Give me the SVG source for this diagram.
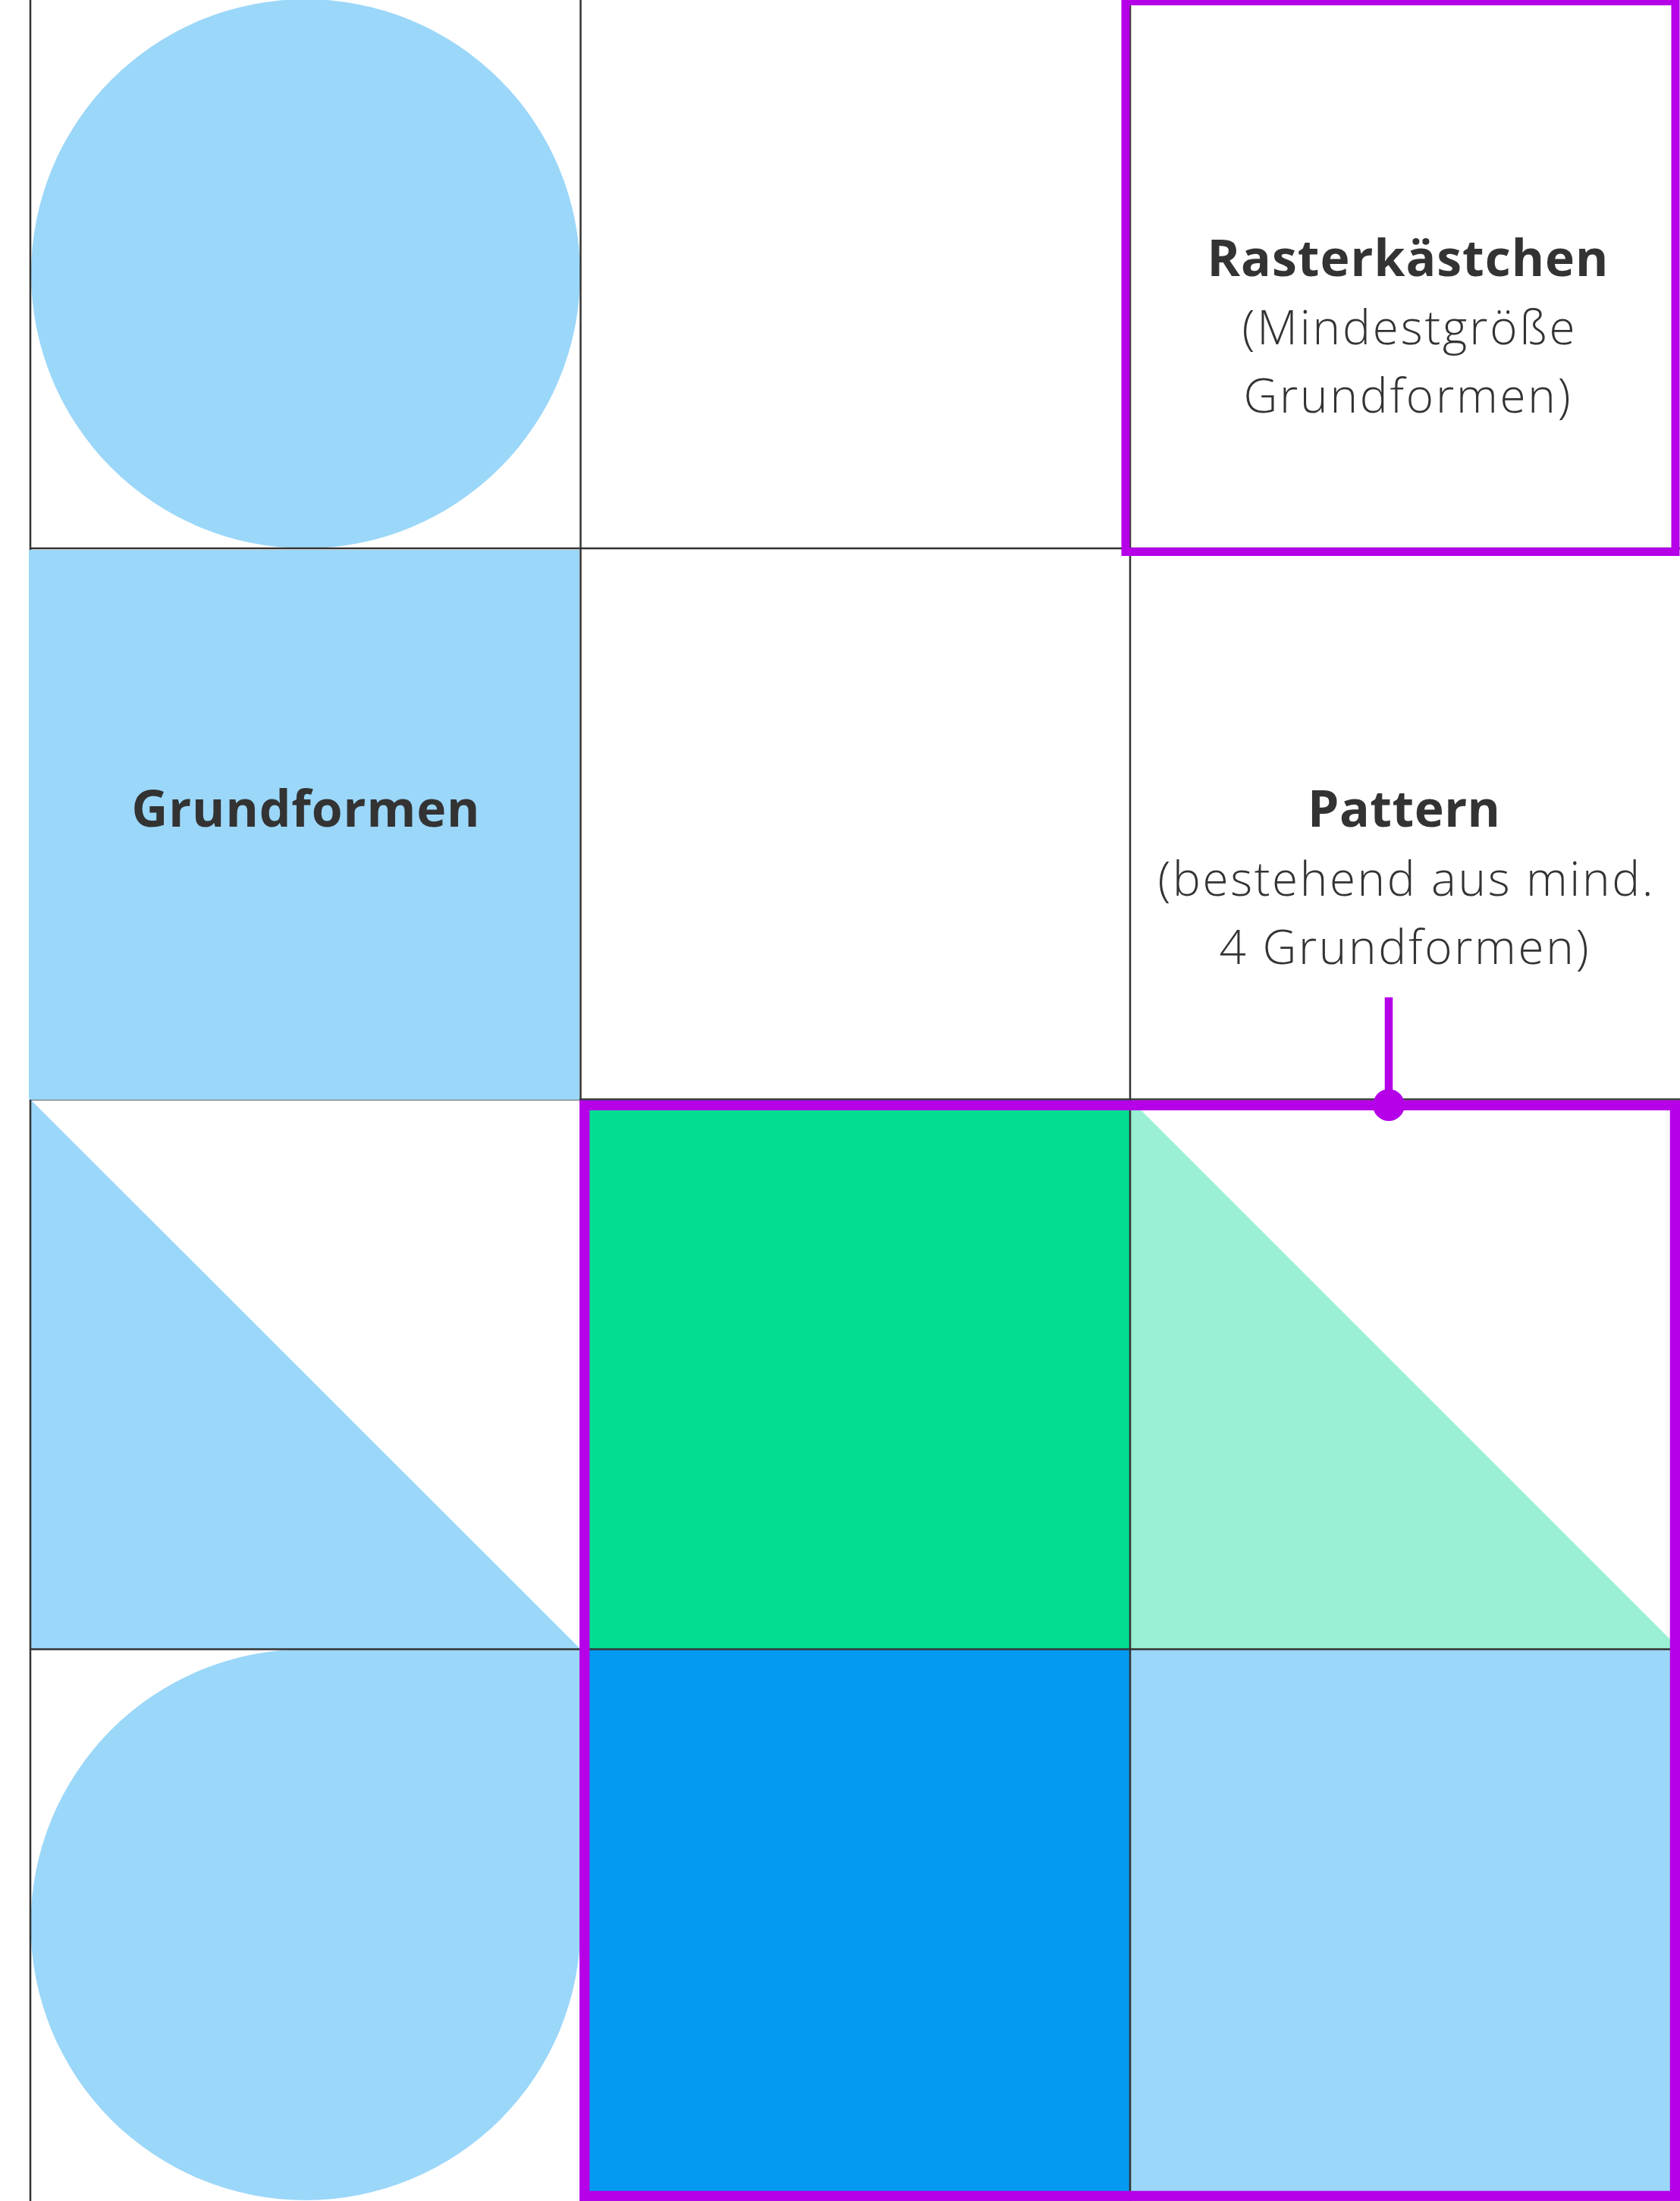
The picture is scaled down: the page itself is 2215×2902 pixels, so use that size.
<svg xmlns="http://www.w3.org/2000/svg" width="2215" height="2902" viewBox="0 0 2215 2902">
<style>
.lb{fill:#9bd7f9}
.grid{stroke:#333333;stroke-width:2.5;fill:none}
.hl{fill:none;stroke:#b500e8}
.tb{font-family:"Open Sans","Liberation Sans",sans-serif;font-weight:700;font-size:66px;fill:#333333;text-anchor:middle}
.tl{font-family:"Open Sans","Liberation Sans",sans-serif;font-weight:300;font-size:62px;fill:#333333;text-anchor:middle}
</style>
<rect width="2215" height="2902" fill="#ffffff"/>
<g id="shapes-under">
  <circle id="circle-top" class="lb" cx="403" cy="361" r="362"/>
  <polygon id="triangle-left" class="lb" points="40,1449.5 40,2174.5 765.5,2174.5"/>
  <path id="leaf-bottom" class="lb" d="M403,2174.5 H765.5 V2538 A362.5,362.5 0 0 1 403,2901 A362.5,362.5 0 0 1 40.5,2538 A362.5,362.5 0 0 1 403,2174.5 Z"/>
  <rect id="green-square" x="765.5" y="1449.5" width="724.5" height="725" fill="#03dd92"/>
  <polygon id="mint-triangle" points="1490,1449.5 1490,2174.5 2215,2174.5" fill="#9af0d4"/>
  <rect id="blue-square" x="765.5" y="2174.5" width="724.5" height="727.5" fill="#049af2"/>
  <rect id="lightblue-square" class="lb" x="1490" y="2174.5" width="725" height="727.5"/>
</g>
<g id="grid">
  <line class="grid" x1="40" y1="0" x2="40" y2="2902"/>
  <line class="grid" x1="765.5" y1="0" x2="765.5" y2="2902"/>
  <line class="grid" x1="1490" y1="0" x2="1490" y2="2902"/>
  <line class="grid" x1="40" y1="723" x2="2215" y2="723"/>
  <line class="grid" x1="40" y1="1449.5" x2="2215" y2="1449.5"/>
  <line class="grid" x1="40" y1="2174.5" x2="2215" y2="2174.5"/>
</g>
<g id="grundformen-node">
  <rect id="grundformen-square" class="lb" x="38" y="725" width="726" height="725"/>
  <text class="tb" x="403" y="1090" textLength="459">Grundformen</text>
</g>
<g id="rasterkaestchen-node">
  <rect class="hl" x="1484" y="1.5" width="725" height="726" stroke-width="11"/>
  <text class="tb" x="1856" y="364" textLength="529">Rasterkästchen</text>
  <text class="tl" x="1857" y="454" textLength="439">(Mindestgröße</text>
  <text class="tl" x="1855" y="544" textLength="431">Grundformen)</text>
</g>
<g id="pattern-node">
  <rect class="hl" x="770.7" y="1457.3" width="1437.7" height="1438" stroke-width="13.3"/>
  <text class="tb" x="1851" y="1090" textLength="254">Pattern</text>
  <text class="tl" x="1853" y="1181" textLength="653">(bestehend aus mind.</text>
  <text class="tl" x="1851" y="1271" textLength="487">4 Grundformen)</text>
</g>
<g id="connectors">
  <line x1="1831" y1="1315" x2="1831" y2="1457" stroke="#b500e8" stroke-width="10.5"/>
  <circle cx="1831" cy="1457" r="21" fill="#b500e8"/>
</g>
</svg>
